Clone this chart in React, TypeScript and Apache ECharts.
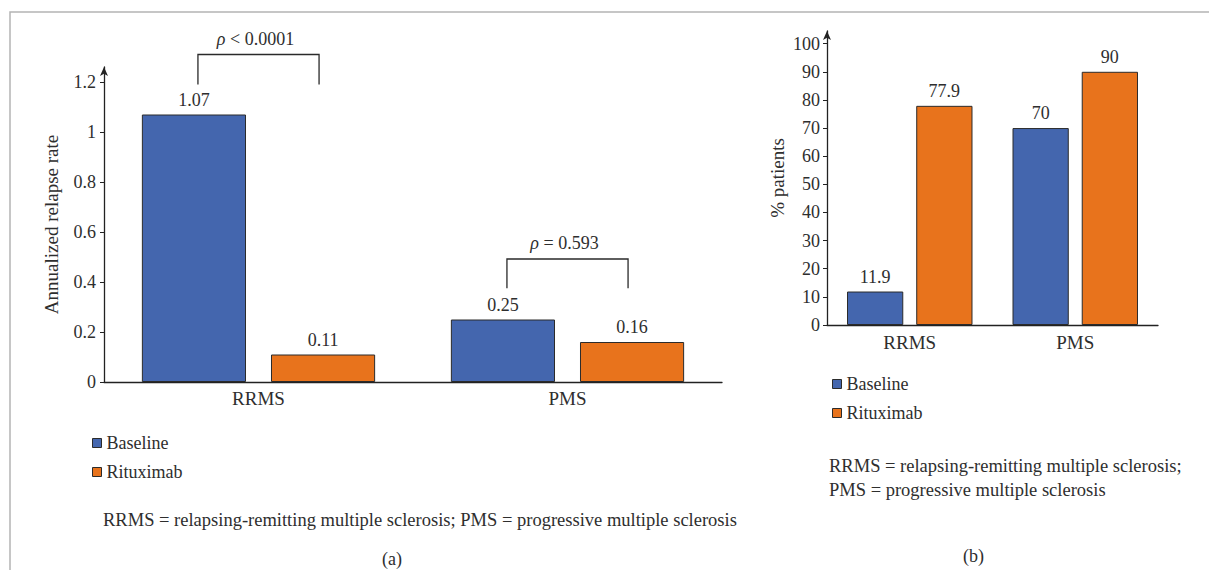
import React, { useEffect, useRef } from "react";
import * as echarts from "echarts";

// Categories and values
const categories = ["RRMS", "PMS"];
const relapseBaseline = [1.07, 0.25];
const relapseRituximab = [0.11, 0.16];
const patientsBaseline = [11.9, 70];
const patientsRituximab = [77.9, 90];

// Tick labels
const relapseTicks = [0, 0.2, 0.4, 0.6, 0.8, 1, 1.2];
const patientTicks = [0, 10, 20, 30, 40, 50, 60, 70, 80, 90, 100];

// Significance brackets: [category, left leg end, top, right leg end]
const brackets = [
  [0, 1.19, 1.31, 1.19],
  [1, 0.375, 0.492, 0.375],
];
const pLabels = ["{i|ρ} < 0.0001", "{i|ρ} = 0.593"];

const FONT = "Liberation Serif";
const INK = "#2e2e2e";
const BLUE = "#4466ae";
const ORANGE = "#e8731c";
const EDGE = "#2b2b2b";

export default function App() {
  const ref = useRef<HTMLDivElement>(null);

  useEffect(() => {
    if (!ref.current) return;
    const chart = echarts.init(ref.current, undefined, { renderer: "svg" });

    const barStyle = (color: string) => ({
      color,
      borderColor: EDGE,
      borderWidth: 1,
    });

    const labelStyle = {
      show: true,
      position: "top" as const,
      distance: 6,
      fontFamily: FONT,
      fontSize: 18,
      color: INK,
    };

    const axisLineStyle = { color: "#222", width: 1.3 };

    chart.setOption({
      animation: false,
      textStyle: { fontFamily: FONT, color: INK },
      grid: [
        { left: 104, top: 67, width: 618, height: 315 },
        { left: 827, top: 31, width: 331, height: 294 },
      ],
      xAxis: [
        {
          type: "category",
          gridIndex: 0,
          data: categories,
          axisLine: { lineStyle: axisLineStyle },
          axisTick: { show: false },
          axisLabel: { fontFamily: FONT, fontSize: 19, color: INK, margin: 7 },
        },
        {
          type: "category",
          gridIndex: 1,
          data: categories,
          axisLine: { lineStyle: axisLineStyle },
          axisTick: { show: false },
          axisLabel: { fontFamily: FONT, fontSize: 19, color: INK, margin: 8 },
        },
      ],
      yAxis: [
        {
          type: "value",
          gridIndex: 0,
          min: 0,
          max: 1.26,
          name: "Annualized relapse rate",
          nameLocation: "middle",
          nameGap: 43,
          nameTextStyle: { fontFamily: FONT, fontSize: 19, color: INK },
          splitLine: { show: false },
          axisLine: {
            show: true,
            lineStyle: axisLineStyle,
            symbol: ["none", "arrow"],
            symbolSize: [6, 9],
          },
          axisTick: { show: true, length: 4, lineStyle: { color: "#222" }, customValues: relapseTicks },
          axisLabel: {
            fontFamily: FONT,
            fontSize: 18,
            color: INK,
            margin: 8,
            customValues: relapseTicks,
            formatter: (v: number) => String(v),
          },
        },
        {
          type: "value",
          gridIndex: 1,
          min: 0,
          max: 104.5,
          name: "% patients",
          nameLocation: "middle",
          nameGap: 40,
          nameTextStyle: { fontFamily: FONT, fontSize: 19, color: INK },
          splitLine: { show: false },
          axisLine: {
            show: true,
            lineStyle: axisLineStyle,
            symbol: ["none", "arrow"],
            symbolSize: [6, 9],
          },
          axisTick: { show: true, length: 4, lineStyle: { color: "#222" }, customValues: patientTicks },
          axisLabel: {
            fontFamily: FONT,
            fontSize: 18,
            color: INK,
            margin: 7,
            customValues: patientTicks,
          },
        },
      ],
      legend: [
        {
          orient: "vertical",
          left: 87,
          top: 429,
          itemWidth: 9,
          itemHeight: 9,
          itemGap: 11,
          icon: "rect",
          itemStyle: { borderColor: EDGE, borderWidth: 1 },
          textStyle: { fontFamily: FONT, fontSize: 18, color: INK },
          data: ["Baseline", "Rituximab"],
        },
        {
          orient: "vertical",
          left: 827,
          top: 370,
          itemWidth: 9,
          itemHeight: 9,
          itemGap: 11,
          icon: "rect",
          itemStyle: { borderColor: EDGE, borderWidth: 1 },
          textStyle: { fontFamily: FONT, fontSize: 18, color: INK },
          data: ["Baseline", "Rituximab"],
        },
      ],
      series: [
        {
          name: "Baseline",
          type: "bar",
          xAxisIndex: 0,
          yAxisIndex: 0,
          data: relapseBaseline,
          barWidth: "33.7%",
          barGap: "24%",
          itemStyle: barStyle(BLUE),
          label: { ...labelStyle, formatter: (p: any) => p.value.toFixed(2) },
        },
        {
          name: "Rituximab",
          type: "bar",
          xAxisIndex: 0,
          yAxisIndex: 0,
          data: relapseRituximab,
          barWidth: "33.7%",
          barGap: "24%",
          itemStyle: barStyle(ORANGE),
          label: { ...labelStyle, formatter: (p: any) => p.value.toFixed(2) },
        },
        {
          name: "Baseline",
          type: "bar",
          xAxisIndex: 1,
          yAxisIndex: 1,
          data: patientsBaseline,
          barWidth: "34%",
          barGap: "23%",
          itemStyle: barStyle(BLUE),
          label: labelStyle,
        },
        {
          name: "Rituximab",
          type: "bar",
          xAxisIndex: 1,
          yAxisIndex: 1,
          data: patientsRituximab,
          barWidth: "34%",
          barGap: "23%",
          itemStyle: barStyle(ORANGE),
          label: labelStyle,
        },
        {
          name: "p-values",
          type: "custom",
          xAxisIndex: 0,
          yAxisIndex: 0,
          clip: false,
          data: brackets,
          renderItem: (params: any, api: any) => {
            const cat = api.value(0);
            const legL = api.coord([cat, api.value(1)]);
            const top = api.coord([cat, api.value(2)]);
            const legR = api.coord([cat, api.value(3)]);
            const dx = api.size([1, 0])[0] * 0.196;
            const cx = top[0];
            return {
              type: "group",
              children: [
                {
                  type: "polyline",
                  shape: {
                    points: [
                      [cx - dx, legL[1]],
                      [cx - dx, top[1]],
                      [cx + dx, top[1]],
                      [cx + dx, legR[1]],
                    ],
                  },
                  style: { stroke: "#2a2a2a", fill: null, lineWidth: 1.3 },
                },
                {
                  type: "text",
                  x: cx - 3,
                  y: top[1] - 7,
                  style: {
                    text: pLabels[params.dataIndex],
                    rich: { i: { fontStyle: "italic", fontFamily: FONT, fontSize: 18, fill: INK } },
                    fontFamily: FONT,
                    fontSize: 18,
                    fill: INK,
                    align: "center",
                    verticalAlign: "bottom",
                  },
                },
              ],
            };
          },
        },
      ],
      graphic: [
        {
          type: "rect",
          silent: true,
          shape: { x: 10, y: 12, width: 1220, height: 600 },
          style: { fill: "none", stroke: "#b4b4b4", lineWidth: 1.5 },
        },
        {
          type: "text",
          left: 103,
          top: 510,
          style: {
            text: "RRMS = relapsing-remitting multiple sclerosis; PMS = progressive multiple sclerosis",
            fontFamily: FONT,
            fontSize: 18.5,
            fill: INK,
          },
        },
        {
          type: "text",
          left: 829,
          top: 454,
          style: {
            text: "RRMS = relapsing-remitting multiple sclerosis;\nPMS = progressive multiple sclerosis",
            fontFamily: FONT,
            fontSize: 18.5,
            lineHeight: 24,
            fill: INK,
          },
        },
        {
          type: "text",
          left: 382,
          top: 550,
          style: { text: "(a)", fontFamily: FONT, fontSize: 18, fill: INK },
        },
        {
          type: "text",
          left: 963,
          top: 547,
          style: { text: "(b)", fontFamily: FONT, fontSize: 18, fill: INK },
        },
      ],
    });

    return () => chart.dispose();
  }, []);

  return (
    <div
      ref={ref}
      style={{ position: "fixed", left: 0, top: 0, width: 1209, height: 570, background: "#fff" }}
    />
  );
}
